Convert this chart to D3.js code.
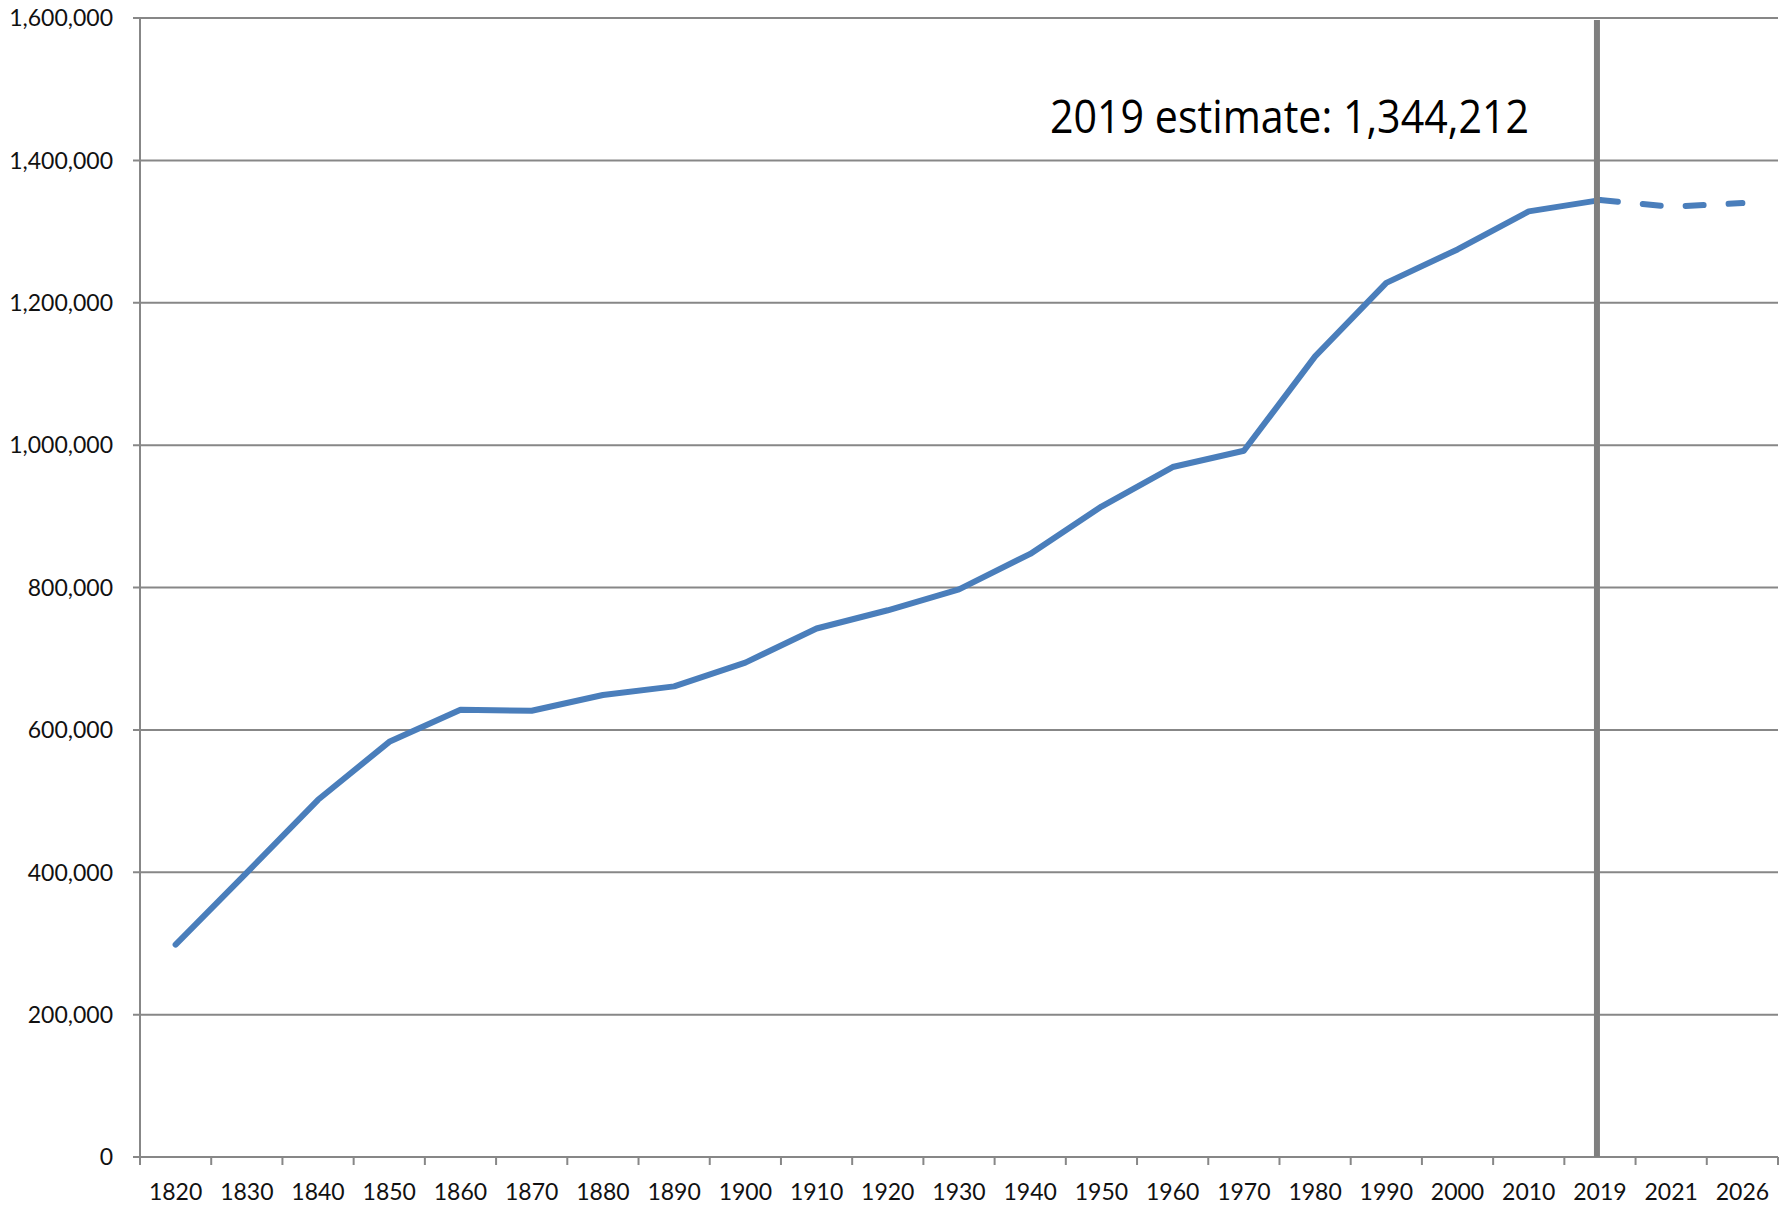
<!DOCTYPE html>
<html>
<head>
<meta charset="utf-8">
<script src="https://cdn.jsdelivr.net/npm/d3@7"></script>
<style>
  html, body { margin: 0; padding: 0; background: #fff; }
  svg { display: block; }
</style>
</head>
<body>
<svg id="chart" width="1787" height="1211"></svg>
<script>
// ---- data ----
const categories = ["1820","1830","1840","1850","1860","1870","1880","1890","1900","1910",
  "1920","1930","1940","1950","1960","1970","1980","1990","2000","2010","2019","2021","2026"];
const population = [298335, 399455, 501793, 583169, 628279, 626915, 648936, 661086, 694466, 742371,
  768014, 797423, 847226, 913774, 969265, 992048, 1124660, 1227928, 1274923, 1328361, 1344212, null, null];
const projection = [null, null, null, null, null, null, null, null, null, null,
  null, null, null, null, null, null, null, null, null, null, 1344212, 1335000, 1340000];
const yTicks = [0, 200000, 400000, 600000, 800000, 1000000, 1200000, 1400000, 1600000];
const markerCategory = "2019";
const annotationText = "2019 estimate: 1,344,212";

// ---- layout ----
(function () {
const svg = d3.select("#chart");
const pLeft = 140, pRight = 1778, pTop = 18, pBottom = 1157;
const gridColor = "#878787";
const lineColor = "#4A7EBB";
const font = "Lato, 'Open Sans', sans-serif";

const x = d3.scaleBand().domain(categories).range([pLeft, pRight]).padding(0);
const y = d3.scaleLinear().domain([0, 1600000]).range([pBottom, pTop]);

// gridlines
svg.append("g").selectAll("line").data(yTicks).join("line")
  .attr("x1", pLeft - 7).attr("x2", pRight)
  .attr("y1", d => y(d)).attr("y2", d => y(d))
  .attr("stroke", gridColor).attr("stroke-width", 2);

// y axis labels
svg.append("g").selectAll("text").data(yTicks).join("text")
  .attr("x", pLeft - 27).attr("y", d => y(d))
  .attr("dy", "0.36em")
  .attr("text-anchor", "end")
  .attr("font-family", font).attr("font-size", 23).attr("fill", "#111")
  .text(d => d3.format(",")(d));

// y axis line
svg.append("line")
  .attr("x1", pLeft).attr("x2", pLeft).attr("y1", pTop).attr("y2", pBottom + 8)
  .attr("stroke", gridColor).attr("stroke-width", 2);

// x axis boundary ticks
const boundaries = categories.map(c => x(c)).concat([x.range()[1]]);
svg.append("g").selectAll("line").data(boundaries).join("line")
  .attr("x1", d => d).attr("x2", d => d)
  .attr("y1", pBottom).attr("y2", pBottom + 8)
  .attr("stroke", gridColor).attr("stroke-width", 2);

// x labels
svg.append("g").selectAll("text").data(categories).join("text")
  .attr("x", d => x(d) + x.bandwidth() / 2).attr("y", pBottom + 43)
  .attr("text-anchor", "middle")
  .attr("font-family", font).attr("font-size", 23).attr("fill", "#111")
  .text(d => d);

// lines
const cx = (d, i) => x(categories[i]) + x.bandwidth() / 2;
const lineGen = d3.line().defined(d => d != null).x(cx).y(d => y(d));
svg.append("path").datum(population)
  .attr("d", lineGen)
  .attr("fill", "none").attr("stroke", lineColor).attr("stroke-width", 6)
  .attr("stroke-linejoin", "round").attr("stroke-linecap", "round");
svg.append("path").datum(projection)
  .attr("d", lineGen)
  .attr("fill", "none").attr("stroke", lineColor).attr("stroke-width", 6)
  .attr("stroke-dasharray", "18,25")
  .attr("stroke-linejoin", "round").attr("stroke-linecap", "round");

// marker vertical line
const mx = x(markerCategory) + x.bandwidth() / 2 - 3;
svg.append("line")
  .attr("x1", mx).attr("x2", mx).attr("y1", pTop + 2).attr("y2", pBottom)
  .attr("stroke", "#7f7f7f").attr("stroke-width", 6);

// annotation
svg.append("text")
  .attr("x", 1050).attr("y", 133)
  .attr("font-family", "'Open Sans', Lato, sans-serif").attr("font-size", 46)
  .attr("fill", "#000")
  .attr("textLength", 479).attr("lengthAdjust", "spacingAndGlyphs")
  .text(annotationText);
})();
</script>
</body>
</html>
